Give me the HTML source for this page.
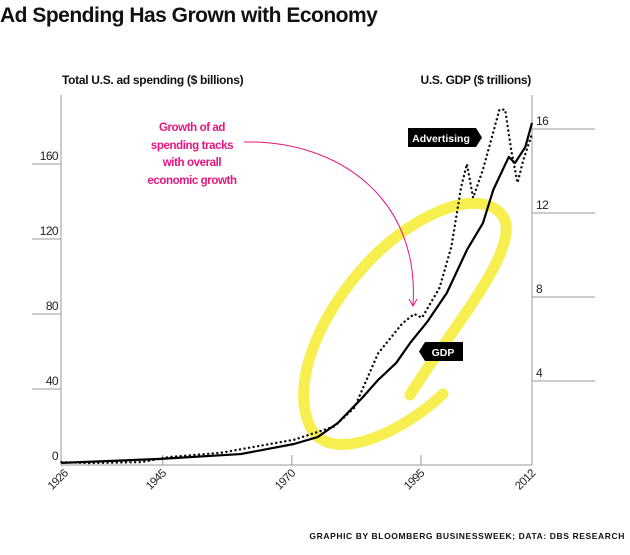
<!DOCTYPE html>
<html><head><meta charset="utf-8"><style>
body{margin:0;background:#fff;width:630px;height:550px;overflow:hidden;font-family:"Liberation Sans",sans-serif}
</style></head><body>
<svg width="630" height="550" viewBox="0 0 630 550">
<text x="0" y="22" font-size="21" font-weight="bold" letter-spacing="-0.5" fill="#111">Ad Spending Has Grown with Economy</text>
<text x="62" y="84" font-size="12" font-weight="bold" letter-spacing="-0.3" fill="#111">Total U.S. ad spending ($ billions)</text>
<text x="531" y="84" font-size="12" font-weight="bold" text-anchor="end" letter-spacing="-0.3" fill="#111">U.S. GDP ($ trillions)</text>
<g id="axes"></g>
<path d="M410 395 C450 330 525 245 502 215 C480 188 420 210 372 258 C312 320 290 392 312 430 C335 465 405 430 443 394" fill="none" stroke="#f6ec3c" stroke-width="11" stroke-linecap="round" opacity="0.9"/>
<g id="series"></g>
<g fill="#e6157e" font-size="11.5" font-weight="bold" text-anchor="middle" letter-spacing="-0.4">
<text x="192" y="131">Growth of ad</text>
<text x="192" y="149">spending tracks</text>
<text x="192" y="166">with overall</text>
<text x="192" y="184">economic growth</text>
</g>
<path d="M244 142 C340 140 420 200 413 305" fill="none" stroke="#e6157e" stroke-width="1"/>
<path d="M409 299 L413 306 L417 299" fill="none" stroke="#e6157e" stroke-width="1"/>
<g>
<path d="M408 128 H476 L482 137.5 L476 147 H408 Z" fill="#000"/>
<text x="441" y="142" font-size="10.5" font-weight="bold" fill="#fff" text-anchor="middle">Advertising</text>
</g>
<g>
<path d="M463 342 H425 L419 351.5 L425 361 H463 Z" fill="#000"/>
<text x="443" y="356" font-size="10.5" font-weight="bold" fill="#fff" text-anchor="middle">GDP</text>
</g>
<text x="625" y="539" font-size="8.5" font-weight="bold" text-anchor="end" letter-spacing="0.6" fill="#111">GRAPHIC BY BLOOMBERG BUSINESSWEEK; DATA: DBS RESEARCH</text>
</svg>
<script>
const gdpYears=[1925.4,1944.6,1960.1,1970.4,1975,1978.9,1983.6,1986.7,1990.2,1992.9,1996.2,2000,2003.9,2007,2009,2012,2013.2,2015.2,2016.5];
const gdpValues=[0.1,0.29,0.52,1.0,1.33,2.0,3.19,4.05,4.86,5.81,6.81,8.19,10.24,11.52,13.1,14.67,14.38,15.14,16.29];
const adYears=[1925.4,1930.6,1940.8,1946.2,1956.3,1970.5,1978.2,1982.1,1986.7,1991.4,1993.7,1995.2,1998.6,2000.9,2002.8,2003.9,2005.1,2007,2010.2,2011.3,2012.5,2013.7,2014.8,2016.5];
const adValues=[1,0.5,1,3.7,6,13,20,30,59,75,80,78,94,116,148,160,142,157,189,189,167,150,162,176];
const leftTicks=[0,40,80,120,160];
const rightTicks=[4,8,12,16];
const xTickYears=[1926,1945,1970,1995,2016.5];
const xTickLabels=["1926","1945","1970","1995","2012"];
const NS="http://www.w3.org/2000/svg";
const X0=61,X1=532,Y0=464;
function x(yr){return X0+(yr-1925.3)*(X1-X0)/91.2;}
function yL(v){return Y0-v*75/40;}
function yR(v){return 465-v*21;}
function mk(tag,attrs,parent){const e=document.createElementNS(NS,tag);for(const k in attrs)e.setAttribute(k,attrs[k]);parent.appendChild(e);return e;}
const ax=document.getElementById('axes');
let l=mk('line',{x1:X0,y1:95,x2:X0,y2:465,stroke:'#999','stroke-width':1},ax);


l=mk('line',{x1:X1,y1:95,x2:X1,y2:465,stroke:'#999','stroke-width':1},ax);


l=mk('line',{x1:X0,y1:465,x2:X1,y2:465,stroke:'#999','stroke-width':1},ax);


leftTicks.forEach(v=>{
 if(v>0){const g=mk('line',{x1:32,y1:yL(v),x2:X0,y2:yL(v),stroke:'#999'},ax);
 
 }
 const t=mk('text',{x:58,y:yL(v)-4,'font-size':12,'text-anchor':'end',fill:'#222','letter-spacing':'-0.6'},ax);
 t.textContent=v;
 
 
});
rightTicks.forEach(v=>{
 const g=mk('line',{x1:X1,y1:yR(v),x2:595,y2:yR(v),stroke:'#999'},ax);
 
 
 const t=mk('text',{x:536,y:yR(v)-4,'font-size':12,fill:'#222','letter-spacing':'-0.6'},ax);
 t.textContent=v;
 
 
});
xTickYears.forEach((yr,i)=>{
 const px=x(yr);
 if(i>0&&i<xTickYears.length-1){const g=mk('line',{x1:px,y1:455,x2:px,y2:465,stroke:'#999'},ax);
 
 }
 const t=mk('text',{x:px+4,y:474,'font-size':11.5,'text-anchor':'end',fill:'#222','letter-spacing':'-0.6',transform:`rotate(-45 ${px+4} 474)`},ax);
 t.textContent=xTickLabels[i];
 
 
});
const se=document.getElementById('series');
const ad=mk('polyline',{points:adYears.map((yr,i)=>x(yr)+','+yL(adValues[i])).join(' '),fill:'none',stroke:'#111','stroke-width':2.4,'stroke-dasharray':'0.1 4.5','stroke-linecap':'round'},se);


const gd=mk('polyline',{points:gdpYears.map((yr,i)=>x(yr)+','+yR(gdpValues[i])).join(' '),fill:'none',stroke:'#000','stroke-width':2.2,'stroke-linejoin':'round'},se);


</script>
</body></html>
